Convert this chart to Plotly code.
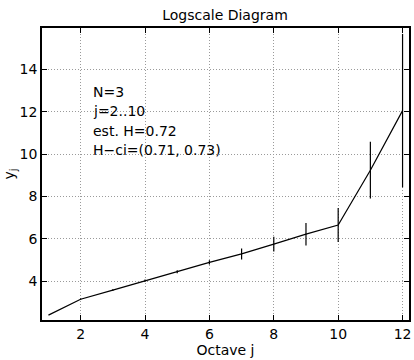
import plotly.graph_objects as go

octaves = [1, 2, 3, 4, 5, 6, 7, 8, 9, 10, 11, 12]
yj = [2.40, 3.15, 3.58, 4.03, 4.45, 4.89, 5.29, 5.75, 6.22, 6.65, 9.24, 12.05]
err = [0.0, 0.03, 0.04, 0.05, 0.07, 0.10, 0.26, 0.35, 0.53, 0.80, 1.34, 3.62]
info_lines = ["N=3", "j=2..10", "est. H=0.72", "H\u2212ci=(0.71, 0.73)"]
info_y = [12.93, 12.01, 11.09, 10.20]
x_ticks = [2, 4, 6, 8, 10, 12]
y_ticks = [4, 6, 8, 10, 12, 14]

FONT = "DejaVu Sans, Verdana, sans-serif"
FS = 14

fig = go.Figure()
fig.add_trace(go.Scatter(
    x=octaves, y=yj, mode="lines",
    line=dict(color="black", width=1.2),
    error_y=dict(type="data", array=err, visible=True, color="black",
                 thickness=1.2, width=0),
    showlegend=False, hoverinfo="skip",
))

for txt, ty in zip(info_lines, info_y):
    fig.add_annotation(
        x=2.33, y=ty, xref="x", yref="y", xanchor="left", yanchor="middle",
        text=txt, showarrow=False, align="left",
        font=dict(family=FONT, size=FS, color="black"),
    )

axis_common = dict(
    showline=True, linecolor="black", linewidth=1.5, mirror="ticks",
    ticks="inside", ticklen=5, tickcolor="black", tickwidth=1,
    showgrid=True, gridcolor="#9a9a9a", griddash="1px,2px", gridwidth=1,
    zeroline=False, tickfont=dict(family=FONT, size=FS, color="black"),
)

fig.update_layout(
    width=414, height=360,
    margin=dict(l=42, r=3, t=28, b=40),
    paper_bgcolor="white", plot_bgcolor="white",
    title=dict(text="Logscale Diagram", x=225 / 414, xref="container", xanchor="center",
               y=1 - 15 / 360, yref="container", yanchor="middle",
               font=dict(family=FONT, size=FS, color="black")),
    xaxis=dict(range=[0.8, 12.2], tickvals=x_ticks,
               title=dict(text="Octave j", standoff=0,
                          font=dict(family=FONT, size=FS, color="black")),
               **axis_common),
    yaxis=dict(range=[2.17, 15.95], tickvals=y_ticks,
               title=dict(text="y<sub>j</sub>", standoff=2,
                          font=dict(family=FONT, size=FS, color="black")),
               **axis_common),
)

fig.write_html("out.html", config={"displayModeBar": False},
               post_script="document.body.style.margin='0';document.body.style.padding='0';")
